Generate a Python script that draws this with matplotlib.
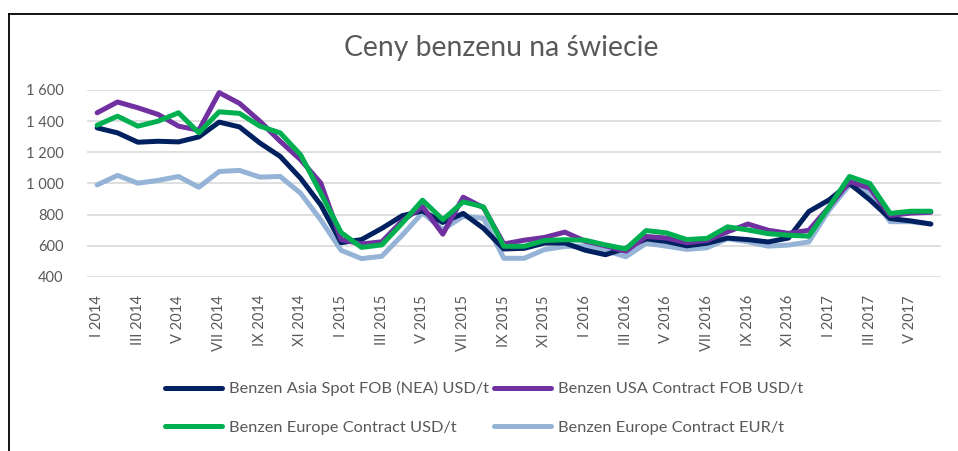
import matplotlib
matplotlib.use("Agg")
import matplotlib.pyplot as plt
from matplotlib.lines import Line2D
from matplotlib.ticker import FuncFormatter, MultipleLocator

# ---- data ----
roman = ["I", "II", "III", "IV", "V", "VI", "VII", "VIII", "IX", "X", "XI", "XII"]
months = [f"{roman[m]} {y}" for y in (2014, 2015, 2016, 2017) for m in range(12)][:42]

asia_usd = [1357, 1325, 1265, 1271, 1267, 1299, 1394, 1363, 1260, 1174, 1034, 862,
            620, 640, 712, 793, 824, 750, 808, 712, 580, 584, 618, 618,
            572, 543, 585, 645, 628, 600, 617, 650, 640, 625, 650, 820,
            895, 1000, 895, 775, 760, 740]
usa_usd = [1454, 1523, 1486, 1443, 1368, 1342, 1583, 1514, 1400, 1271, 1153, 1002,
           640, 612, 626, 760, 852, 675, 912, 845, 612, 636, 654, 688,
           630, 600, 565, 660, 650, 620, 635, 690, 740, 700, 680, 700,
           850, 1012, 970, 795, 810, 815]
europe_usd = [1374, 1432, 1368, 1400, 1454, 1325, 1460, 1450, 1368, 1325, 1185, 938,
              685, 590, 606, 745, 893, 768, 882, 850, 597, 597, 634, 639,
              636, 606, 580, 698, 683, 640, 648, 722, 702, 678, 668, 662,
              850, 1045, 1000, 808, 822, 822]
europe_eur = [991, 1052, 1002, 1020, 1045, 976, 1077, 1084, 1041, 1045, 938, 766,
              571, 518, 533, 668, 812, 705, 789, 777, 520, 520, 576, 596,
              600, 570, 530, 616, 598, 577, 588, 646, 626, 598, 605, 625,
              830, 990, 935, 755, 755, 740]

series_names = ["Benzen Asia Spot FOB (NEA) USD/t",
                "Benzen USA Contract FOB USD/t",
                "Benzen Europe Contract USD/t",
                "Benzen Europe Contract EUR/t"]
title = "Ceny benzenu na świecie"

# ---- style ----
plt.rcParams['font.family'] = ['Lato', 'DejaVu Sans']
txt = "#595959"
colors = ["#002060", "#7030A0", "#00B050", "#95B3D7"]

fig = plt.figure(figsize=(9.58, 4.51), dpi=100)
ax = fig.add_axes([87/958, 1-277/451, (941-87)/958, (277-90)/451])

x = list(range(len(months)))
draw_order = [3, 0, 1, 2]
data = [asia_usd, usa_usd, europe_usd, europe_eur]
handles = {}
for i in draw_order:
    h, = ax.plot(x, data[i], color=colors[i], lw=3.6, solid_joinstyle='round',
                 solid_capstyle='round', label=series_names[i], zorder=3)
    handles[i] = h

ax.set_xlim(-0.5, len(months) - 0.5)
ax.set_ylim(400, 1600)
ax.yaxis.set_major_locator(MultipleLocator(200))
ax.yaxis.set_major_formatter(FuncFormatter(lambda v, p: f"{int(v):,}".replace(",", " ")))
ax.set_xticks(x[::2])
ax.set_xticklabels(months[::2], rotation=90, va='top', ha='center')
ax.grid(axis='y', color='#D9D9D9', lw=1.2, zorder=0)
for s in ax.spines.values():
    s.set_visible(False)
ax.tick_params(axis='both', length=0, labelsize=10.5, labelcolor=txt)
ax.tick_params(axis='x', pad=13)
ax.tick_params(axis='y', pad=17)

fig.text(0.523, 1-48/451, title, ha='center', va='center', fontsize=20.4, color=txt)

# legend: row-wise order (matplotlib fills columns first)
leg_order = [0, 2, 1, 3]
leg = fig.legend([handles[i] for i in leg_order], [series_names[i] for i in leg_order],
                 loc='center', bbox_to_anchor=(484/958, 1-408/451), ncol=2, frameon=False,
                 fontsize=11.8, labelcolor=txt, handlelength=3.5, handletextpad=0.43,
                 columnspacing=0.3, labelspacing=1.45)

# border (top and left)
fig.add_artist(Line2D([9/958, 1], [1-14/451, 1-14/451], color='black', lw=1.3,
                      transform=fig.transFigure))
fig.add_artist(Line2D([9/958, 9/958], [0, 1-14/451], color='black', lw=1.3,
                      transform=fig.transFigure))

fig.savefig("out.png", dpi=100, facecolor='white')
